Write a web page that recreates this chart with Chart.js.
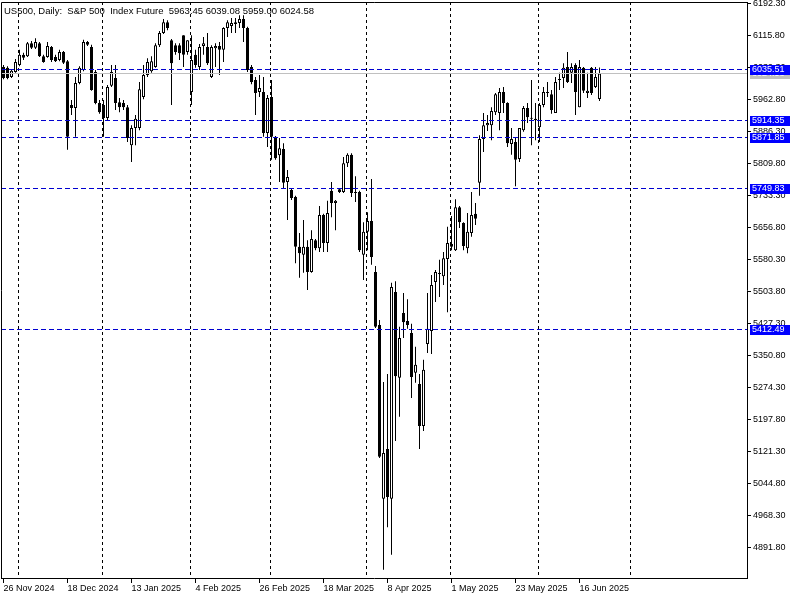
<!DOCTYPE html>
<html>
<head>
<meta charset="utf-8">
<script src="https://cdn.jsdelivr.net/npm/chart.js@4.4.1/dist/chart.umd.min.js"></script>
<style>
  html, body { margin: 0; padding: 0; background: #fff; }
  canvas { display: block; }
</style>
</head>
<body>
<canvas id="grafico" width="800" height="600"></canvas>
<script>
// OHLC por barra diaria (US500)
const openPrices = [
  6040, 6038, 6016, 6028, 6045, 6069, 6066, 6097, 6086, 6097,
  6066, 6064, 6088, 6064, 6057, 6076, 6054, 5949, 5942, 6002,
  6033, 6100, 6088, 6028, 5954, 5949, 5918, 5995, 6014, 5956,
  5954, 5944, 5853, 5894, 5894, 5968, 6021, 6030, 6040, 6092,
  6121, 6147, 6104, 6092, 6092, 6116, 6076, 5980, 6069, 6040,
  6090, 6088, 6016, 6085, 6090, 6081, 6133, 6138, 6143, 6145,
  6155, 6133, 6040, 6009, 5980, 5980, 5882, 5968, 5873, 5829,
  5844, 5765, 5746, 5729, 5610, 5591, 5610, 5550, 5626, 5607,
  5686, 5619, 5744, 5715, 5748, 5741, 5810, 5830, 5741, 5741,
  5591, 5646, 5672, 5550, 5423, 5008, 5127, 5008, 5502, 5297,
  5452, 5433, 5404, 5309, 5282, 5182, 5378, 5409, 5526, 5545,
  5540, 5581, 5617, 5602, 5705, 5667, 5607, 5643, 5689, 5763,
  5868, 5901, 5901, 5932, 5930, 5980, 5954, 5856, 5861, 5820,
  5889, 5942, 5916, 5916, 5896, 5949, 5980, 5975, 5930, 6009,
  6014, 6040, 6026, 6045, 5944, 6038, 5978, 6038, 5992, 5963.45
];
const highPrices = [
  6045, 6042, 6035, 6059, 6081, 6074, 6100, 6102, 6109, 6100,
  6069, 6100, 6090, 6069, 6081, 6078, 6057, 5961, 6016, 6042,
  6105, 6102, 6093, 6033, 5961, 5961, 5997, 6045, 6045, 5966,
  5961, 5949, 5901, 5925, 6004, 6045, 6061, 6066, 6097, 6126,
  6155, 6152, 6107, 6097, 6097, 6116, 6104, 6116, 6081, 6095,
  6112, 6121, 6092, 6097, 6100, 6135, 6152, 6157, 6157, 6164,
  6164, 6136, 6045, 6016, 6021, 6016, 5973, 6009, 5875, 5870,
  5858, 5794, 5751, 5732, 5643, 5674, 5626, 5650, 5629, 5708,
  5689, 5720, 5765, 5722, 5751, 5825, 5834, 5834, 5779, 5744,
  5669, 5693, 5772, 5564, 5435, 5287, 5306, 5524, 5528, 5419,
  5500, 5485, 5426, 5371, 5306, 5340, 5500, 5543, 5555, 5579,
  5598, 5658, 5684, 5724, 5708, 5669, 5691, 5741, 5715, 5877,
  5930, 5925, 5944, 5978, 5990, 5992, 5956, 5894, 5870, 5894,
  5947, 5954, 6009, 5954, 5954, 5992, 6004, 5985, 6016, 6026,
  6049, 6076, 6049, 6049, 6057, 6040, 6026, 6040, 6040, 6039.08
];
const lowPrices = [
  6011, 6011, 6014, 6026, 6042, 6057, 6064, 6083, 6083, 6064,
  6050, 6062, 6052, 6052, 6054, 6047, 5842, 5925, 5873, 5999,
  6030, 6090, 5983, 5951, 5928, 5873, 5913, 5992, 5937, 5932,
  5937, 5861, 5813, 5853, 5889, 5963, 6016, 6026, 6038, 6088,
  6119, 6128, 5949, 6069, 6057, 6040, 6069, 5949, 6038, 6033,
  6069, 6045, 6014, 6040, 6021, 6052, 6112, 6121, 6121, 6133,
  6100, 6028, 5999, 5925, 5968, 5873, 5849, 5818, 5818, 5765,
  5751, 5674, 5722, 5571, 5536, 5548, 5507, 5548, 5602, 5598,
  5598, 5598, 5681, 5650, 5739, 5739, 5801, 5729, 5717, 5598,
  5531, 5602, 5567, 5416, 5105, 4838, 4940, 4874, 5146, 5204,
  5392, 5414, 5249, 5285, 5127, 5170, 5356, 5354, 5478, 5490,
  5519, 5454, 5602, 5600, 5655, 5602, 5595, 5634, 5662, 5732,
  5837, 5887, 5865, 5925, 5889, 5930, 5849, 5830, 5755, 5813,
  5885, 5906, 5853, 5865, 5861, 5944, 5968, 5928, 5930, 5985,
  5990, 6002, 6002, 5925, 5944, 5978, 5966, 5973, 5990, 5959.00
];
const closePrices = [
  6014, 6014, 6031, 6052, 6069, 6062, 6097, 6086, 6100, 6066,
  6052, 6090, 6057, 6054, 6076, 6050, 5873, 5942, 6002, 6038,
  6100, 6093, 5985, 5954, 5932, 5918, 5992, 6028, 5954, 5944,
  5944, 5870, 5894, 5916, 5987, 6021, 6052, 6054, 6092, 6121,
  6147, 6133, 6049, 6076, 6073, 6069, 6104, 6057, 6045, 6088,
  6097, 6049, 6088, 6090, 6081, 6133, 6147, 6145, 6147, 6155,
  6133, 6033, 6004, 5978, 5990, 5882, 5966, 5873, 5822, 5846,
  5763, 5777, 5727, 5610, 5595, 5610, 5550, 5629, 5607, 5686,
  5619, 5691, 5715, 5720, 5741, 5810, 5830, 5739, 5739, 5602,
  5646, 5672, 5586, 5419, 5108, 5117, 5012, 5514, 5301, 5392,
  5430, 5423, 5299, 5328, 5182, 5316, 5414, 5519, 5550, 5547,
  5583, 5619, 5610, 5705, 5669, 5612, 5646, 5686, 5677, 5868,
  5901, 5906, 5935, 5975, 5980, 5954, 5858, 5868, 5818, 5894,
  5942, 5920, 5918, 5913, 5949, 5980, 5978, 5937, 6004, 6011,
  6038, 6004, 6040, 5980, 6040, 5983, 5983, 5978, 6016, 6024.58
];

// eixo de datas: barra onde cada rótulo aparece
const tickBars = [0, 16, 32, 48, 64, 80, 96, 112, 128, 144];
const tickLabels = ['26 Nov 2024', '18 Dec 2024', '13 Jan 2025', '4 Feb 2025', '26 Feb 2025',
                    '18 Mar 2025', '8 Apr 2025', '1 May 2025', '23 May 2025', '16 Jun 2025'];
// início de cada mês (linhas verticais da grade)
const monthBars = [4, 25, 47, 67, 91, 112, 134, 157];

const priceTicks = [6192.30, 6115.80, 6039.30, 5962.80, 5886.30, 5809.80, 5733.30, 5656.80, 5580.30,
                    5503.80, 5427.30, 5350.80, 5274.30, 5197.80, 5121.30, 5044.80, 4968.30, 4891.80];
const levels = [6035.51, 5914.35, 5871.85, 5749.83, 5412.49];
const bidPrice = 6024.58;
const titulo = 'US500, Daily:  S&P 500  Index Future  5963.45 6039.08 5959.00 6024.58';

const FONTE = '"Liberation Sans", Arial, sans-serif';

const idx = openPrices.map((_, i) => i);
const isBull = i => closePrices[i] >= openPrices[i];

const mtPlugin = {
  id: 'mt',
  beforeDatasetsDraw(chart) {
    const { ctx, chartArea: a, scales: { x } } = chart;
    ctx.save();
    ctx.strokeStyle = '#000';
    ctx.lineWidth = 1;
    ctx.setLineDash([3, 3]);
    for (const m of monthBars) {
      const px = Math.floor(x.getPixelForValue(m - 0.25)) + 0.5;
      if (px > a.right) continue;
      ctx.beginPath();
      ctx.moveTo(px, a.top);
      ctx.lineTo(px, a.bottom);
      ctx.stroke();
    }
    ctx.restore();
  },
  afterDatasetsDraw(chart) {
    const { ctx, chartArea: a, scales: { y } } = chart;
    ctx.save();
    ctx.lineWidth = 1;
    // linha do bid
    let py = Math.round(y.getPixelForValue(bidPrice)) + 0.5;
    ctx.strokeStyle = '#c0c0c0';
    ctx.beginPath(); ctx.moveTo(a.left, py); ctx.lineTo(a.right, py); ctx.stroke();
    // níveis horizontais
    ctx.strokeStyle = '#0000d0';
    ctx.setLineDash([5, 3]);
    for (const v of levels) {
      py = Math.round(y.getPixelForValue(v)) + 0.5;
      ctx.beginPath(); ctx.moveTo(a.left, py); ctx.lineTo(a.right, py); ctx.stroke();
    }
    ctx.setLineDash([]);
    // moldura superior e esquerda
    ctx.strokeStyle = '#000';
    ctx.beginPath();
    ctx.moveTo(a.left + 0.5, a.bottom);
    ctx.lineTo(a.left + 0.5, a.top + 0.5);
    ctx.lineTo(a.right, a.top + 0.5);
    ctx.stroke();
    ctx.restore();
  },
  afterDraw(chart) {
    const { ctx, chartArea: a, scales: { y } } = chart;
    ctx.save();
    ctx.font = '9px ' + FONTE;
    ctx.textBaseline = 'middle';
    const caixa = (v, cor) => {
      const py = Math.round(y.getPixelForValue(v));
      ctx.fillStyle = cor;
      ctx.fillRect(a.right + 3, py - 4, 40, 10);
      ctx.fillStyle = '#fff';
      ctx.fillText(v.toFixed(2), a.right + 5, py + 1);
    };
    caixa(bidPrice, '#c0c0c0');
    for (const v of levels) caixa(v, '#0000ff');
    // título
    ctx.fillStyle = '#000';
    ctx.font = '9.5px ' + FONTE;
    ctx.fillText(titulo, 4, 11);
    ctx.restore();
  }
};

const semPadding = s => {
  s.paddingTop = 0; s.paddingBottom = 0; s.paddingLeft = 0; s.paddingRight = 0;
};

const ctx = document.getElementById('grafico').getContext('2d');

new Chart(ctx, {
  type: 'bar',
  data: {
    datasets: [
      {
        label: 'corpo',
        data: idx.map(i => ({ x: i, y: [openPrices[i], closePrices[i]] })),
        order: 0,
        grouped: false,
        barThickness: 3,
        borderWidth: 1,
        borderSkipped: false,
        inflateAmount: 0,
        minBarLength: 1,
        borderColor: '#000',
        backgroundColor: c => isBull(c.dataIndex) ? '#fff' : '#000'
      },
      {
        label: 'pavio',
        data: idx.map(i => ({ x: i, y: [lowPrices[i], highPrices[i]] })),
        order: 1,
        grouped: false,
        barThickness: 1,
        borderWidth: 0,
        inflateAmount: 0,
        backgroundColor: '#000'
      }
    ]
  },
  options: {
    responsive: false,
    animation: false,
    events: [],
    layout: { padding: { left: 1, top: 2, right: 0, bottom: 0 } },
    plugins: {
      legend: { display: false },
      tooltip: { enabled: false },
      title: { display: false }
    },
    scales: {
      x: {
        type: 'linear',
        min: -0.625,
        max: 185.875,
        offset: false,
        afterFit: s => { s.height = 22; semPadding(s); },
        afterBuildTicks: s => { s.ticks = tickBars.map(v => ({ value: v })); },
        ticks: {
          autoSkip: false,
          maxRotation: 0,
          align: 'start',
          padding: 0,
          color: '#000',
          font: { family: FONTE, size: 9 },
          callback: (v, i) => tickLabels[i]
        },
        grid: { offset: false, drawOnChartArea: false, drawTicks: true, tickLength: 5, color: '#000' },
        border: { color: '#000' }
      },
      y: {
        type: 'linear',
        position: 'right',
        min: 4818.4,
        max: 6195.4,
        afterFit: s => { s.width = 53; semPadding(s); },
        afterBuildTicks: s => { s.ticks = priceTicks.map(v => ({ value: v })); },
        ticks: {
          autoSkip: false,
          padding: 2,
          color: '#000',
          font: { family: FONTE, size: 9 },
          callback: v => v.toFixed(2)
        },
        grid: { drawOnChartArea: false, tickLength: 4, color: '#000' },
        border: { color: '#000' }
      }
    }
  },
  plugins: [mtPlugin]
});
</script>
</body>
</html>
